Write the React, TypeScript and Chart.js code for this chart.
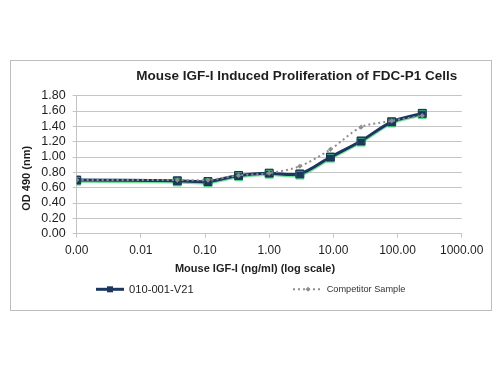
import React, { useEffect, useRef } from "react";
import { Chart, registerables } from "chart.js";

Chart.register(...registerables);

const concentrations = [0.001, 0.037, 0.111, 0.333, 1, 3, 9, 27, 81, 243];
const sampleValues = [0.70, 0.69, 0.68, 0.76, 0.79, 0.78, 1.0, 1.21, 1.46, 1.57];
const competitorValues = [0.70, 0.70, 0.70, 0.76, 0.79, 0.88, 1.10, 1.39, 1.47, 1.54];
const xTicks = [0.001, 0.01, 0.1, 1, 10, 100, 1000];
const seriesNames = ["010-001-V21", "Competitor Sample"];
const chartTitle = "Mouse IGF-I Induced Proliferation of FDC-P1 Cells";
const xTitle = "Mouse IGF-I (ng/ml) (log scale)";
const yTitle = "OD 490 (nm)";

const NAVY = "#1B365F";
const GRAY = "#8E8E8E";
const TEXT = "#1e1e1e";
const FONT = "'Liberation Sans', Arial, sans-serif";

export default function App() {
  const ref = useRef<HTMLCanvasElement | null>(null);

  useEffect(() => {
    if (!ref.current) return;

    const shadowPlugin = {
      id: "shadow",
      beforeDatasetDraw(chart: any, args: any) {
        if (args.index === 0) {
          const ctx = chart.ctx;
          ctx.save();
          ctx.shadowColor = "rgba(70, 215, 120, 0.75)";
          ctx.shadowOffsetX = 0;
          ctx.shadowOffsetY = 1.3;
          ctx.shadowBlur = 0.5;
        }
      },
      afterDatasetDraw(chart: any, args: any) {
        if (args.index === 0) chart.ctx.restore();
      },
    };

    const textPlugin = {
      id: "texts",
      afterDraw(chart: any) {
        const ctx = chart.ctx;
        ctx.save();
        ctx.fillStyle = TEXT;
        ctx.textAlign = "center";
        ctx.textBaseline = "middle";
        ctx.font = `bold 13.5px ${FONT}`;
        ctx.fillText(chartTitle, 285.7, 15.7);
        ctx.font = `bold 11px ${FONT}`;
        ctx.fillText(xTitle, 244, 208);
        ctx.save();
        ctx.translate(16.3, 117.3);
        ctx.rotate(-Math.PI / 2);
        ctx.fillText(yTitle, 0, 0);
        ctx.restore();

        // legend
        const ly = 228.3;
        ctx.strokeStyle = NAVY;
        ctx.lineWidth = 3;
        ctx.beginPath();
        ctx.moveTo(85, ly);
        ctx.lineTo(113, ly);
        ctx.stroke();
        ctx.fillStyle = NAVY;
        ctx.fillRect(99 - 3, ly - 3, 6, 6);
        ctx.fillStyle = TEXT;
        ctx.textAlign = "left";
        ctx.font = `11.2px ${FONT}`;
        ctx.fillText(seriesNames[0], 118, ly + 0.5);

        ctx.strokeStyle = GRAY;
        ctx.lineWidth = 2;
        ctx.setLineDash([2, 3]);
        ctx.beginPath();
        ctx.moveTo(282, ly);
        ctx.lineTo(311, ly);
        ctx.stroke();
        ctx.setLineDash([]);
        ctx.fillStyle = GRAY;
        ctx.beginPath();
        ctx.moveTo(297, ly - 2.5);
        ctx.lineTo(299.5, ly);
        ctx.lineTo(297, ly + 2.5);
        ctx.lineTo(294.5, ly);
        ctx.closePath();
        ctx.fill();
        ctx.fillStyle = "#333";
        ctx.font = `9.2px ${FONT}`;
        ctx.fillText(seriesNames[1], 315.7, ly + 0.5);
        ctx.restore();
      },
    };

    const chart = new Chart(ref.current, {
      type: "line",
      data: {
        datasets: [
          {
            label: seriesNames[0],
            data: concentrations.map((x, i) => ({ x, y: sampleValues[i] })),
            borderColor: NAVY,
            backgroundColor: NAVY,
            borderWidth: 3,
            pointStyle: "rect",
            pointRadius: 5.6,
            pointBorderWidth: 1,
            pointBorderColor: "#16304F",
            pointBackgroundColor: NAVY,
            tension: 0.3,
            order: 2,
          },
          {
            label: seriesNames[1],
            data: concentrations.map((x, i) => ({ x, y: competitorValues[i] })),
            borderColor: GRAY,
            backgroundColor: GRAY,
            borderWidth: 2,
            borderDash: [2, 3],
            pointStyle: "rectRot",
            pointRadius: 2.6,
            pointBorderWidth: 0,
            pointBackgroundColor: GRAY,
            tension: 0.3,
            order: 1,
          },
        ],
      },
      options: {
        responsive: false,
        animation: false,
        layout: { padding: { top: 34.7, right: 29.3, left: 0, bottom: 0 } },
        plugins: {
          legend: { display: false },
          title: { display: false },
          tooltip: { enabled: false },
        },
        scales: {
          x: {
            type: "logarithmic",
            min: 0.001,
            max: 1000,
            afterBuildTicks: (scale: any) => {
              scale.ticks = xTicks.map((v) => ({ value: v, major: true }));
            },
            afterFit: (scale: any) => {
              scale.height = 76.3;
            },
            ticks: {
              autoSkip: false,
              maxRotation: 0,
              minRotation: 0,
              padding: 6,
              color: TEXT,
              font: { family: FONT, size: 12 },
              callback: (v: any) => Number(v).toFixed(2),
            },
            grid: {
              drawOnChartArea: false,
              drawTicks: true,
              tickLength: 4,
              color: "#c4c4c4",
            },
            border: { display: true, color: "#c4c4c4", width: 1 },
          },
          y: {
            min: 0,
            max: 1.8,
            afterFit: (scale: any) => {
              scale.width = 65.7;
            },
            ticks: {
              stepSize: 0.2,
              autoSkip: false,
              padding: 7,
              color: TEXT,
              font: { family: FONT, size: 12.5 },
              callback: (v: any) => Number(v).toFixed(2),
            },
            grid: {
              color: "#c4c4c4",
              tickLength: 4,
              lineWidth: 1,
            },
            border: { display: true, color: "#c4c4c4", width: 1 },
          },
        },
      },
      plugins: [shadowPlugin, textPlugin],
    });

    return () => chart.destroy();
  }, []);

  return (
    <div
      style={{
        position: "absolute",
        left: 0,
        top: 0,
        width: 500,
        height: 375,
        background: "#fff",
      }}
    >
      <div
        style={{
          position: "absolute",
          left: 10,
          top: 60,
          width: 480,
          height: 249,
          border: "1px solid #bdbdbd",
        }}
      >
        <canvas ref={ref} width={480} height={249} style={{ display: "block" }} />
      </div>
    </div>
  );
}
